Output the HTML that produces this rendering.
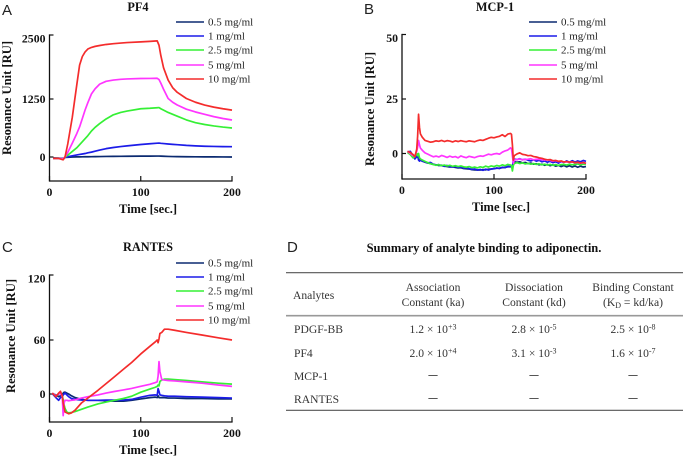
<!DOCTYPE html>
<html>
<head>
<meta charset="utf-8">
<style>
html,body{margin:0;padding:0;background:#fff;}
svg{display:block;filter:blur(0.3px);}
text{font-family:"Liberation Serif",serif;}
.letter{font-family:"Liberation Sans",sans-serif;font-size:15px;fill:#222;}
.tbl{font-size:11.6px;fill:#333;}
.mid{text-anchor:middle;}
.dash{font-size:18px;fill:#444;text-anchor:middle;}
</style>
</head>
<body>
<svg id="fig" xmlns="http://www.w3.org/2000/svg" width="683" height="458" viewBox="0 0 683 458">
<rect width="683" height="458" fill="#fff"/>
<text class="letter" x="2" y="15">A</text>
<text class="letter" x="364" y="14">B</text>
<text class="letter" x="2" y="252">C</text>
<text class="letter" x="287" y="252">D</text>

<g id="table-d">
<text x="484" y="252" text-anchor="middle" font-weight="bold" font-size="12.5" fill="#111">Summary of analyte binding to adiponectin.</text>
<line x1="286" x2="683" y1="272.7" y2="272.7" stroke="#555" stroke-width="1.1"/>
<line x1="286" x2="683" y1="315.7" y2="315.7" stroke="#999" stroke-width="1.6"/>
<line x1="286" x2="683" y1="410.3" y2="410.3" stroke="#555" stroke-width="1.1"/>

<text class="tbl" x="293" y="299">Analytes</text>
<text class="tbl mid" x="433" y="291">Association</text>
<text class="tbl mid" x="433" y="306">Constant (ka)</text>
<text class="tbl mid" x="534" y="291">Dissociation</text>
<text class="tbl mid" x="534" y="306">Constant (kd)</text>
<text class="tbl mid" x="633" y="291">Binding Constant</text>
<text class="tbl mid" x="633" y="306">(K<tspan dy="2" font-size="8">D</tspan><tspan dy="-2"> = kd/ka)</tspan></text>

<text class="tbl" x="294" y="333">PDGF-BB</text>
<text class="tbl mid" x="433" y="333">1.2 × 10<tspan dy="-3.5" font-size="8">+3</tspan></text>
<text class="tbl mid" x="534" y="333">2.8 × 10<tspan dy="-3.5" font-size="8">-5</tspan></text>
<text class="tbl mid" x="633" y="333">2.5 × 10<tspan dy="-3.5" font-size="8">-8</tspan></text>

<text class="tbl" x="294" y="357">PF4</text>
<text class="tbl mid" x="433" y="357">2.0 × 10<tspan dy="-3.5" font-size="8">+4</tspan></text>
<text class="tbl mid" x="534" y="357">3.1 × 10<tspan dy="-3.5" font-size="8">-3</tspan></text>
<text class="tbl mid" x="633" y="357">1.6 × 10<tspan dy="-3.5" font-size="8">-7</tspan></text>

<text class="tbl" x="294" y="380">MCP-1</text>
<text class="dash" x="433" y="380">–</text>
<text class="dash" x="534" y="380">–</text>
<text class="dash" x="633" y="380">–</text>

<text class="tbl" x="294" y="403">RANTES</text>
<text class="dash" x="433" y="403">–</text>
<text class="dash" x="534" y="403">–</text>
<text class="dash" x="633" y="403">–</text>
</g>
</svg>

<script>
const legendLabels = ['0.5 mg/ml', '1 mg/ml', '2.5 mg/ml', '5 mg/ml', '10 mg/ml'];
const seriesSlugs = ['0-5', '1', '2-5', '5', '10'];
const seriesColors = ['#0b2a70', '#1c1ce8', '#35f035', '#ff35ff', '#f42c2c'];
const xTickLabels = [0, 100, 200];

/* Panel A: PF4 */
const aYTicks = [0, 1250, 2500];
const aTime = [4,10,15,17,20,25,30,33,36,39,42,46,50,55,62,70,78,85,100,110,118,120,122,125,130,135,140,150,160,170,180,190,200];
const aDark = [-20,-25,-30,-10,-5,0,2,3,4,5,6,7,8,10,12,14,15,16,18,19,20,20,18,16,12,10,8,6,4,3,2,1,0];
const aBlue = [-30,-30,-35,-10,5,25,45,55,65,75,90,105,125,150,180,205,225,240,270,285,298,300,295,290,280,272,265,250,240,232,228,224,222];
const aGreen = [-30,-30,-40,0,40,120,200,265,330,395,460,560,640,720,820,910,960,990,1040,1050,1062,1065,1040,1010,960,920,880,800,740,700,670,645,625];
const aMagenta = [-30,-30,-40,0,100,300,510,650,830,1013,1170,1350,1450,1540,1595,1620,1635,1642,1650,1652,1655,1630,1560,1440,1260,1180,1120,1030,970,920,870,830,797];
const aRed = [-30,-30,-60,0,280,860,1540,1914,2080,2170,2226,2258,2278,2295,2315,2330,2343,2352,2365,2375,2385,2300,2100,1860,1620,1470,1380,1260,1180,1120,1075,1040,1010];

/* Panel B: MCP-1 */
const bYTicks = [0, 25, 50];
const bTime = [6,9,12,14,16,17,18,19,20,22,
  25,28,31,34,37,40,43,46,49,52,55,58,61,64,67,70,73,76,79,82,85,88,91,94,97,100,103,106,109,112,115,118,
  119,120,121,122,
  125,128,131,134,137,140,143,146,149,152,155,158,161,164,167,170,173,176,179,182,185,188,191,194,197,200];
const bDark = [1,0,-1.5,-2,-1,-1,-2.5,-3,-3,-3.5,
  -4,-4.4,-4.6,-5,-5.2,-5.5,-5.4,-5.8,-6,-6.2,-6.1,-6.4,-6.6,-6.5,-6.9,-7,-7.1,-7.4,-7.5,-7.6,-7.6,-7.4,-7.5,-7.2,-7.1,-6.9,-6.8,-6.7,-6.5,-6.4,-6.1,-6.1,
  -6,-7,-4,-3.8,
  -4,-3.8,-4.3,-4.1,-4.6,-4.4,-4.9,-4.7,-5.2,-4.9,-5.4,-5,-5.6,-5.2,-5.8,-5.4,-6,-5.5,-6.1,-5.6,-6.2,-5.7,-6.3,-5.8,-6.2,-6];
const bBlue = [0.5,1,-1,-2.5,-1.5,-1,-3,-3.5,-3,-3.5,
  -3.8,-4.3,-4.1,-4.9,-5.3,-5.1,-5.6,-5.9,-5.5,-6,-6.2,-5.9,-6.4,-6.2,-6.7,-6.5,-7,-7.3,-7.1,-7.6,-7.3,-7.7,-7.2,-7.6,-7.1,-7,-6.6,-6.9,-6.3,-6.5,-5.9,-6,
  -5.8,-6.5,-3,-2.6,
  -2.8,-2.4,-2.9,-2.6,-3.1,-3.4,-2.9,-3.5,-3.1,-3.8,-3.4,-4,-3.6,-4.2,-3.8,-4.4,-3.7,-4.1,-3.4,-4,-3.3,-3.9,-3.4,-3.8,-3.2,-3.6];
const bGreen = [0.5,-0.5,-2,-1.5,0,-1,0,-2,-2.5,-3,
  -3.6,-4.2,-4.7,-5,-5.4,-5.1,-5.6,-5.3,-5.7,-5.4,-5.9,-5.6,-6,-5.7,-6.1,-6.3,-6,-6.5,-6.2,-6.6,-6.1,-6.4,-5.8,-6.2,-5.7,-6,-5.5,-5.8,-5.2,-5.6,-5,-5.3,
  -5.4,-8,-5.5,-4.6,
  -4.2,-4.6,-4.3,-4.8,-4.5,-4.9,-4.6,-5,-4.7,-5.2,-4.9,-5.3,-5,-5.4,-5.1,-5.5,-5.1,-5,-5.3,-4.9,-5.2,-5,-4.8,-5.2,-4.9,-5];
const bMagenta = [1,0,-1,-1,1,3,6,4,2.5,1.5,
  0.3,-0.3,-0.9,-1.5,-1.2,-1.6,-0.9,-1.3,-1.8,-1.2,-1.7,-1.4,-2,-1.1,-1.6,-1.9,-1.3,-1.6,-1.9,-1.4,-1.1,-1.3,-0.8,-0.3,-0.6,-0.2,0,-0.3,0.6,1.2,1.6,2.6,
  2.2,-1,-4.5,-3,
  -2.8,-2.5,-2.9,-2.7,-2.6,-2.4,-2.9,-2.6,-2.7,-2.8,-3,-2.9,-3.2,-3.5,-3.3,-3.7,-3.6,-4,-3.8,-4.1,-3.9,-4.3,-4.1,-4.5,-4.2,-4.6];
const bRed = [1,0.5,-0.5,-1.5,2,8,18,12,9,7.5,
  6,5.6,5.2,5.4,5.8,5.6,6,5.5,5.9,5.7,5.3,5.8,5.5,5.9,5.6,5.4,5.8,5.6,5.4,5.9,6.2,6,6.5,7,7.4,7.2,7.6,7.9,8.6,7.8,8.9,9.2,
  8.8,4,-3,-1,
  -0.2,0.3,-0.4,-0.6,-1,-0.9,-1.4,-1.6,-2,-2.2,-2.6,-2.9,-2.8,-3.3,-3.2,-3.6,-3.4,-3.9,-3.7,-4,-3.8,-4.2,-4,-4.4,-4.1,-4.5];

/* Panel C: RANTES */
const cYTicks = [0, 60, 120];
const cTime = [3,7,10,12,14,15,16,17,19,21,24,28,35,42,53,62,71,81,90,100,110,116,118,119,120,121,123,126,130,137,150,167,185,200];
const cDark = [0.5,-1,-3,-2,-1,1,2,2,1,0,-2,-4,-6,-7,-7,-7.5,-8,-8,-7,-5.5,-4,-3.5,-4,-2,-4,-4,-4,-4,-4.5,-4.5,-5,-5,-5.5,-5.5];
const cBlue = [0.5,-4,-7,-4,-3,-1,0,1,-1,-3,-5,-6,-6.7,-7,-7,-6.8,-6.8,-6.7,-6,-3.5,-1.5,-1,-1.5,6,3,-1,-1.5,-2,-2.5,-2.5,-3,-3.5,-4,-4.5];
const cGreen = [1,-2,0,1,-2,-6,-12,-16,-20,-21,-20.5,-19.5,-17,-14.5,-11,-9,-7,-5,-2.5,2,5.5,7.5,8.5,10,9,14,15.5,16.5,16.5,16,15,13.5,12,11];
const cMagenta = [1,-2,0,1,-3,-24,-10,-7,-7,-7.5,-7,-6.5,-4.5,-3,-1,1,2.8,4.5,6.2,8.5,10.8,12.7,13.5,20,36,25,16,15.5,15,14.5,13.5,12,10,8.5];
const cRed = [1,-3,1,3,-2,-10,-15,-20,-21,-22,-21,-18,-10,-4.5,4,11.5,19,27.5,35,44.5,53,58,60,57,61,66,67,70,70,69,67,64.6,62,60];

const SVGNS = 'http://www.w3.org/2000/svg';
const fig = document.getElementById('fig');

function svgEl(tag, parent, props, content) {
  const el = document.createElementNS(SVGNS, tag);
  for (const k in props) el.setAttribute(k, props[k]);
  if (content !== undefined) el.textContent = content;
  parent.appendChild(el);
  return el;
}

/* Axis functions: x is linear, y is piecewise through the three printed ticks. */
function makeXScale(x0, x200) {
  return function (t) { return x0 + (x200 - x0) * t / 200; };
}
function makeYScale(ticks, y0, yMid, yTop) {
  return function (v) {
    if (v <= ticks[1]) return y0 + (yMid - y0) * v / ticks[1];
    return yMid + (yTop - yMid) * (v - ticks[1]) / (ticks[2] - ticks[1]);
  };
}

function drawPanel(p) {
  const g = svgEl('g', fig, {});
  
  
  const X = makeXScale(p.x0, p.x200);
  const Y = makeYScale(p.yTicks, p.y0, p.yMid, p.yTop);

  const title = svgEl('text', g, { x: p.titleX, y: p.titleY, 'text-anchor': 'middle', 'font-weight': 'bold', 'font-size': 12.3, fill: '#111' }, p.title);
  
  

  const yAxis = svgEl('line', g, { x1: p.x0, x2: p.x0, y1: p.yTop - 0.6, y2: p.yBottom + 0.6, stroke: '#111', 'stroke-width': 1.3 });
  
  
  const xAxis = svgEl('line', g, { x1: p.x0, x2: p.x200 + 0.6, y1: p.yBottom, y2: p.yBottom, stroke: '#111', 'stroke-width': 1.3 });
  
  

  p.yTicks.forEach(function (v, i) {
    const y = Y(v);
    const tick = svgEl('line', g, { x1: p.x0, x2: p.x0 + 4, y1: y, y2: y, stroke: '#111', 'stroke-width': 1.2 });
    
    
    const shift = i === 2 ? 3.5 : 0;
    const lab = svgEl('text', g, { x: p.x0 - 4, y: y + 4 + shift, 'text-anchor': 'end', 'font-weight': 'bold', 'font-size': 11.8, fill: '#111' }, v);
    
    
  });
  xTickLabels.forEach(function (v) {
    const x = X(v);
    const tick = svgEl('line', g, { x1: x, x2: x, y1: p.yBottom, y2: p.yBottom - 5, stroke: '#111', 'stroke-width': 1.2 });
    
    
    const lab = svgEl('text', g, { x: x, y: p.yBottom + 15, 'text-anchor': 'middle', 'font-weight': 'bold', 'font-size': 11.8, fill: '#111' }, v);
    
    
  });

  const xt = svgEl('text', g, { x: p.xTitleX, y: p.yBottom + 32, 'text-anchor': 'middle', 'font-weight': 'bold', 'font-size': 12.5, fill: '#111' }, 'Time [sec.]');
  
  
  const yt = svgEl('text', g, { transform: 'translate(' + p.yTitleX + ',' + p.yTitleY + ') rotate(-90)', 'text-anchor': 'middle', 'font-weight': 'bold', 'font-size': 12.6, fill: '#111' }, 'Resonance Unit [RU]');
  
  

  p.series.forEach(function (vals, i) {
    let d = '';
    vals.forEach(function (v, j) {
      d += (j ? 'L' : 'M') + X(p.time[j]).toFixed(2) + ' ' + Y(v).toFixed(2);
    });
    const line = svgEl('path', g, { d: d, fill: 'none', stroke: seriesColors[i], 'stroke-width': 1.7, 'stroke-linejoin': 'round' });
    
    
  });

  legendLabels.forEach(function (label, i) {
    const ly = p.legendY + [0, 14, 28, 43, 57][i];
    const sw = svgEl('line', g, { x1: p.legendX, x2: p.legendX + 28, y1: ly, y2: ly, stroke: seriesColors[i], 'stroke-width': 1.5 });
    
    
    const tx = svgEl('text', g, { x: p.legendX + 32, y: ly + 3.5, 'font-size': 11, fill: '#222' }, label);
    
    
  });
}

drawPanel({ slug: 'pf4', title: 'PF4', titleX: 138, titleY: 11, x0: 49.5, x200: 232, yTicks: aYTicks, y0: 157, yMid: 99, yTop: 35, yBottom: 181, xTitleX: 148, yTitleX: 11, yTitleY: 98, legendX: 176, legendY: 22, time: aTime, series: [aDark, aBlue, aGreen, aMagenta, aRed] });
drawPanel({ slug: 'mcp-1', title: 'MCP-1', titleX: 495, titleY: 11, x0: 402, x200: 586, yTicks: bYTicks, y0: 153.5, yMid: 99, yTop: 34.5, yBottom: 179, xTitleX: 501, yTitleX: 374, yTitleY: 109, legendX: 529, legendY: 22, time: bTime, series: [bDark, bBlue, bGreen, bMagenta, bRed] });
drawPanel({ slug: 'rantes', title: 'RANTES', titleX: 148, titleY: 251, x0: 49.5, x200: 232, yTicks: cYTicks, y0: 394, yMid: 340, yTop: 275, yBottom: 422, xTitleX: 148, yTitleX: 15, yTitleY: 336, legendX: 176, legendY: 263, time: cTime, series: [cDark, cBlue, cGreen, cMagenta, cRed] });
</script>
</body>
</html>
